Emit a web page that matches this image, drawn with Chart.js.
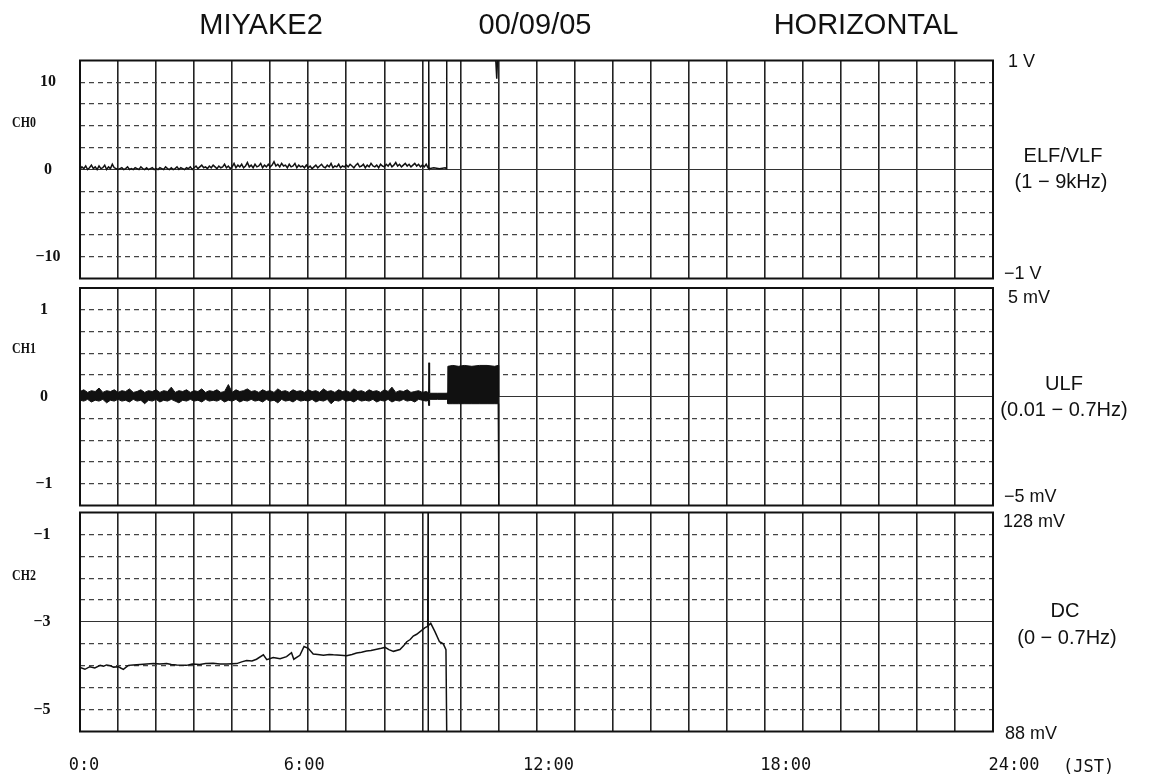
<!DOCTYPE html>
<html>
<head>
<meta charset="utf-8">
<title>MIYAKE2 00/09/05 HORIZONTAL</title>
<script src="https://cdn.jsdelivr.net/npm/chart.js@4.4.1/dist/chart.umd.min.js"></script>
<style>
  html, body { margin: 0; padding: 0; background: #fff; }
  #page { position: relative; width: 1158px; height: 779px; overflow: hidden; background: #fff;
          font-family: "Liberation Sans", Arial, sans-serif; color: #111; }
  canvas { position: absolute; left: 0; }
  .t { position: absolute; white-space: nowrap; line-height: 1; }
  .c { transform: translate(-50%, -50%); }
  .l { transform: translateY(-50%); }
  .title { font-size: 29px; }
  .unit { font-size: 18px; }
  .band { font-size: 20px; }
  .ch { font-family: "Liberation Serif", serif; font-weight: bold; font-size: 14px; transform: translate(-50%, -50%) scaleX(0.85); }
  .jst { font-family: "DejaVu Sans Mono", monospace; font-size: 17px; }
</style>
</head>
<body>
<div id="page">
  <canvas id="p0" width="1158" height="284" style="top:0px"></canvas>
  <canvas id="p1" width="1158" height="225" style="top:284px"></canvas>
  <canvas id="p2" width="1158" height="270" style="top:509px"></canvas>

  <div class="t c title" style="left:261px;top:24px">MIYAKE2</div>
  <div class="t c title" style="left:535px;top:24px">00/09/05</div>
  <div class="t c title" style="left:866px;top:24px">HORIZONTAL</div>

  <div class="t c ch" style="left:24px;top:123px">CH0</div>
  <div class="t c ch" style="left:24px;top:349px">CH1</div>
  <div class="t c ch" style="left:24px;top:576px">CH2</div>

  <div class="t l unit" style="left:1008px;top:61px">1 V</div>
  <div class="t c band" style="left:1063px;top:155px">ELF/VLF</div>
  <div class="t c band" style="left:1061px;top:181px">(1 − 9kHz)</div>
  <div class="t l unit" style="left:1004px;top:273px">−1 V</div>

  <div class="t l unit" style="left:1008px;top:297px">5 mV</div>
  <div class="t c band" style="left:1064px;top:383px">ULF</div>
  <div class="t c band" style="left:1064px;top:409px">(0.01 − 0.7Hz)</div>
  <div class="t l unit" style="left:1004px;top:496px">−5 mV</div>

  <div class="t l unit" style="left:1003px;top:521px">128 mV</div>
  <div class="t c band" style="left:1065px;top:610px">DC</div>
  <div class="t c band" style="left:1067px;top:637px">(0 − 0.7Hz)</div>
  <div class="t l unit" style="left:1005px;top:733px">88 mV</div>

  <div class="t l jst" style="left:1063px;top:766px">(JST)</div>
</div>

<script>
// ---------- time axis ----------
const timeTicks  = [0, 6, 12, 18, 24];
const timeLabels = ['0:0', '6:00', '12:00', '18:00', '24:00'];

// ---------- CH0 : ELF/VLF (1 - 9 kHz), sampled every 0.05 h from 0:00 ----------
const ch0Step = 0.05;
const ch0Values = [
  0,0.3,0.1,0.4,0,0.2,0.5,0.1,0.3,0,0.4,0.1,0.2,0.5,0,0.3,0.1,0.6,0.2,0.1,
  0,0.1,0.2,0,0.1,0.3,0,0.1,0,0.2,0.1,0,0.3,0.1,0,0.2,0,0.1,0.2,0,
  0.1,0,0.2,0.1,0,0.3,0.1,0,0.2,0,0.1,0.3,0,0.2,0.1,0,0.2,0.1,0.3,0,
  0.2,0.4,0.1,0.3,0.5,0.2,0.3,0.1,0.4,0.2,0.5,0.3,0.1,0.4,0.2,0.3,0.6,0.2,0.4,0.1,
  0.3,0.7,0.2,0.5,0.3,0.6,0.2,0.4,0.8,0.3,0.5,0.2,0.6,0.3,0.4,0.7,0.2,0.5,0.3,0.6,
  0.3,0.5,0.9,0.4,0.6,0.3,0.7,0.4,0.5,0.2,0.6,0.3,0.4,0.7,0.2,0.5,0.3,0.4,0.2,0.5,
  0.2,0.4,0.1,0.3,0.5,0.2,0.4,0.6,0.3,0.2,0.5,0.3,0.7,0.2,0.4,0.3,0.6,0.2,0.4,0.3,
  0.5,0.3,0.6,0.4,0.2,0.5,0.7,0.3,0.4,0.6,0.2,0.5,0.3,0.7,0.4,0.3,0.5,0.2,0.6,0.4,
  0.3,0.6,0.4,0.7,0.3,0.5,0.8,0.4,0.6,0.3,0.5,0.7,0.4,0.6,0.3,0.5,0.7,0.4,0.6,0.3,
  0.5,0.3,0.6,0.2
];
// saturation events after 9:10
const ch0EventTime  = [9.165, 9.17, 9.175, 9.30, 9.45, 9.60, 9.635, 9.64, 10.93, 10.955, 10.975];
const ch0EventValue = [0.1,   12.5, 0.1,   0.2,  0.1,  0.2,  0.1,   12.5, 12.5,  10.4,   12.5];
const ch0Ticks = [-10, 0, 10];

// ---------- CH1 : ULF (0.01 - 0.7 Hz), envelope sampled every 0.1 h ----------
const ch1Step = 0.1;
const ch1High = [
  0.06,0.08,0.05,0.07,0.06,0.10,0.05,0.07,0.06,0.08,
  0.05,0.07,0.06,0.09,0.05,0.06,0.08,0.05,0.07,0.06,
  0.08,0.05,0.07,0.06,0.11,0.05,0.07,0.06,0.08,0.05,
  0.07,0.06,0.09,0.05,0.07,0.06,0.08,0.05,0.06,0.14,
  0.05,0.08,0.06,0.07,0.09,0.06,0.07,0.05,0.08,0.06,
  0.07,0.05,0.09,0.06,0.07,0.05,0.08,0.06,0.07,0.05,
  0.08,0.06,0.07,0.05,0.09,0.06,0.07,0.05,0.08,0.06,
  0.07,0.05,0.09,0.06,0.07,0.05,0.08,0.06,0.07,0.05,
  0.08,0.06,0.11,0.05,0.07,0.06,0.08,0.05,0.06,0.07,
  0.05,0.06
];
const ch1Low = [
  -0.04,-0.05,-0.03,-0.06,-0.04,-0.05,-0.03,-0.07,-0.04,-0.05,
  -0.03,-0.05,-0.04,-0.06,-0.03,-0.05,-0.04,-0.08,-0.04,-0.05,
  -0.03,-0.06,-0.04,-0.05,-0.03,-0.05,-0.07,-0.04,-0.05,-0.03,
  -0.05,-0.04,-0.06,-0.03,-0.05,-0.04,-0.05,-0.03,-0.06,-0.04,
  -0.05,-0.03,-0.06,-0.04,-0.05,-0.03,-0.05,-0.04,-0.06,-0.03,
  -0.05,-0.04,-0.07,-0.03,-0.05,-0.04,-0.06,-0.03,-0.05,-0.04,
  -0.05,-0.03,-0.06,-0.04,-0.05,-0.03,-0.08,-0.04,-0.05,-0.03,
  -0.05,-0.04,-0.06,-0.03,-0.05,-0.04,-0.05,-0.03,-0.06,-0.04,
  -0.05,-0.03,-0.06,-0.04,-0.05,-0.03,-0.05,-0.04,-0.06,-0.03,
  -0.04,-0.05
];
// spike at 9:10 and the oscillation burst 9:40 - 11:00
const ch1EventTime = [9.15, 9.17, 9.175, 9.19, 9.40, 9.63, 9.66, 9.67, 9.80, 9.95, 10.10, 10.30, 10.50, 10.70, 10.90, 10.99, 11.00, 11.01];
const ch1EventHigh = [0.05, 0.39, 0.39, 0.04, 0.04, 0.04, 0.05, 0.35, 0.36, 0.35, 0.36, 0.35, 0.36, 0.36, 0.35, 0.36, 0.00, 0.00];
const ch1EventLow  = [-0.04,-0.10,-0.10,-0.03,-0.03,-0.03,-0.04,-0.08,-0.08,-0.08,-0.08,-0.08,-0.08,-0.08,-0.08,-0.08,-1.25,-1.25];
const ch1Ticks = [-1, 0, 1];

// ---------- CH2 : DC (0 - 0.7 Hz) ----------
const ch2Time = [
  0, 0.13, 0.26, 0.39, 0.53, 0.62, 0.70, 0.80, 0.88, 1.01, 1.07, 1.14, 1.27, 1.40, 1.58, 1.75, 1.93,
  2.10, 2.28, 2.40, 2.54, 2.80, 2.95, 3.15, 3.30, 3.50, 3.68, 3.86, 4.12, 4.25, 4.38, 4.52, 4.64,
  4.82, 4.91, 5.08, 5.26, 5.43, 5.56, 5.62, 5.78, 5.89, 6.00, 6.13, 6.25, 6.40, 6.55, 6.66, 6.85,
  7.01, 7.15, 7.27, 7.40, 7.53, 7.65, 7.80, 7.92, 8.02, 8.12, 8.24, 8.41, 8.50, 8.59, 8.68, 8.76,
  8.85, 8.94, 9.07, 9.14, 9.15, 9.15, 9.16, 9.22, 9.33, 9.45, 9.55, 9.62, 9.64
];
const ch2Values = [
  -4.04, -4.08, -4.02, -4.05, -3.99, -4.01, -3.98, -4.00, -4.03, -4.02, -4.05, -4.08, -3.99, -3.98, -3.97, -3.96, -3.95,
  -3.96, -3.95, -3.97, -3.98, -3.99, -3.96, -3.97, -3.95, -3.94, -3.96, -3.96, -3.95, -3.91, -3.88, -3.89, -3.85,
  -3.75, -3.86, -3.81, -3.84, -3.79, -3.70, -3.85, -3.76, -3.56, -3.60, -3.73, -3.74, -3.76, -3.74, -3.75, -3.76,
  -3.77, -3.74, -3.71, -3.69, -3.66, -3.65, -3.62, -3.60, -3.58, -3.63, -3.67, -3.63, -3.55, -3.45, -3.40, -3.32,
  -3.28, -3.22, -3.13, -3.10, -0.5, -5.5, -3.08, -3.03, -3.22, -3.45, -3.50, -3.63, -5.5
];
const ch2Ticks = [-5, -3, -1];

// ---------- build point lists ----------
const ch0Points = ch0Values.map((v, i) => ({ x: i * ch0Step, y: v }))
  .concat(ch0EventTime.map((t, i) => ({ x: t, y: ch0EventValue[i] })));
const ch1HighPoints = ch1High.map((v, i) => ({ x: i * ch1Step, y: v }))
  .concat(ch1EventTime.map((t, i) => ({ x: t, y: ch1EventHigh[i] })));
const ch1LowPoints = ch1Low.map((v, i) => ({ x: i * ch1Step, y: v }))
  .concat(ch1EventTime.map((t, i) => ({ x: t, y: ch1EventLow[i] })));
const ch2Points = ch2Time.map((t, i) => ({ x: t, y: ch2Values[i] }));

// ---------- shared layout ----------
const PLOT_LEFT = 80;
const PLOT_RIGHT = 993;
const PAGE_W = 1158;
const TICK_FONT = { family: '"Liberation Serif", serif', size: 16, weight: 'bold' };
const INK = '#111';

const fmt = v => (v < 0 ? '\u2212' + Math.abs(v) : String(v));

function labelPadding(ticks, centerX) {
  const c = document.createElement('canvas').getContext('2d');
  c.font = 'bold 16px "Liberation Serif"';
  const widest = Math.max(...ticks.map(v => c.measureText(fmt(v)).width));
  return PLOT_LEFT - centerX - widest / 2;
}

// axes keep their fixed size and claim no extra room around the plot
function fixSize(s, w, h) {
  if (w !== null) s.width = w;
  if (h !== null) s.height = h;
  s.paddingTop = 0; s.paddingBottom = 0; s.paddingLeft = 0; s.paddingRight = 0;
}

const framePlugin = {
  id: 'frame',
  afterDatasetsDraw(chart) {
    const a = chart.chartArea, ctx = chart.ctx;
    ctx.save();
    ctx.strokeStyle = INK;
    ctx.lineWidth = 2;
    ctx.strokeRect(a.left, a.top, a.right - a.left, a.bottom - a.top);
    ctx.restore();
  }
};

const timeLabelPlugin = {
  id: 'timeLabels',
  afterDraw(chart) {
    const ctx = chart.ctx, xs = chart.scales.x;
    const nudge = [4, -4, 12, 21, 21];
    ctx.save();
    ctx.font = '17px "DejaVu Sans Mono", monospace';
    ctx.fillStyle = INK;
    ctx.textAlign = 'center';
    ctx.textBaseline = 'middle';
    timeTicks.forEach((t, i) => {
      ctx.fillText(timeLabels[i], xs.getPixelForValue(t) + nudge[i], 766 - 509);
    });
    ctx.restore();
  }
};

function makePanel(id, o) {
  const near = (a, b) => Math.abs(a - b) < 1e-6;
  const gridValues = [];
  for (let v = o.min; v <= o.max + 1e-9; v += o.step) gridValues.push(+v.toFixed(4));
  const hours = [];
  for (let h = 0; h <= 24; h++) hours.push(h);

  return new Chart(document.getElementById(id), {
    type: 'line',
    data: { datasets: o.datasets },
    options: {
      responsive: false,
      animation: false,
      devicePixelRatio: 1,
      events: [],
      layout: { autoPadding: false, padding: { left: 0, right: PAGE_W - PLOT_RIGHT, top: o.padTop, bottom: o.padBottom } },
      plugins: { legend: { display: false }, tooltip: { enabled: false } },
      elements: { point: { radius: 0 }, line: { tension: 0 } },
      scales: {
        x: {
          type: 'linear', min: 0, max: 24,
          afterBuildTicks: s => { s.ticks = hours.map(h => ({ value: h })); },
          afterFit: s => fixSize(s, null, 0),
          ticks: { display: false },
          grid: { color: '#222', lineWidth: 1.6, drawTicks: false },
          border: { display: false }
        },
        y: {
          type: 'linear', position: 'left', min: o.min, max: o.max,
          afterBuildTicks: s => { s.ticks = o.labels.map(v => ({ value: v })); },
          afterFit: s => fixSize(s, PLOT_LEFT, null),
          ticks: {
            display: true, font: TICK_FONT, color: INK, crossAlign: 'center',
            padding: labelPadding(o.labels, o.labelCx),
            callback: v => fmt(v)
          },
          grid: {
            drawTicks: false, lineWidth: 1.1,
            color: c => (c.tick && near(c.tick.value, o.center) ? '#333' : 'rgba(0,0,0,0)')
          },
          border: { display: false }
        },
        yg: {
          type: 'linear', position: 'left', min: o.min, max: o.max,
          afterBuildTicks: s => { s.ticks = gridValues.map(v => ({ value: v })); },
          afterFit: s => fixSize(s, 0, null),
          ticks: { display: false },
          grid: {
            drawTicks: false, lineWidth: 1.3,
            color: c => {
              const v = c.tick ? c.tick.value : NaN;
              return (near(v, o.center) || near(v, o.min) || near(v, o.max)) ? 'rgba(0,0,0,0)' : '#444';
            }
          },
          border: { display: false, dash: [5, 4] }
        }
      }
    },
    plugins: [framePlugin].concat(o.plugins || [])
  });
}

// CH0 panel
makePanel('p0', {
  min: -12.5, max: 12.5, step: 2.5, center: 0, labels: ch0Ticks, labelCx: 48,
  padTop: 60.5, padBottom: 284 - 278.5,
  datasets: [{ data: ch0Points, borderColor: INK, borderWidth: 1.5, fill: false }]
});

// CH1 panel
makePanel('p1', {
  min: -1.25, max: 1.25, step: 0.25, center: 0, labels: ch1Ticks, labelCx: 44,
  padTop: 288 - 284, padBottom: 509 - 505.5,
  datasets: [
    { data: ch1HighPoints, borderColor: INK, borderWidth: 1, fill: false },
    { data: ch1LowPoints, borderColor: INK, borderWidth: 1, fill: '-1', backgroundColor: INK }
  ]
});

// CH2 panel
makePanel('p2', {
  min: -5.5, max: -0.5, step: 0.5, center: -3, labels: ch2Ticks, labelCx: 42,
  padTop: 512.5 - 509, padBottom: 270 - (731.5 - 509),
  datasets: [{ data: ch2Points, borderColor: INK, borderWidth: 1.5, fill: false }],
  plugins: [timeLabelPlugin]
});
</script>
</body>
</html>
